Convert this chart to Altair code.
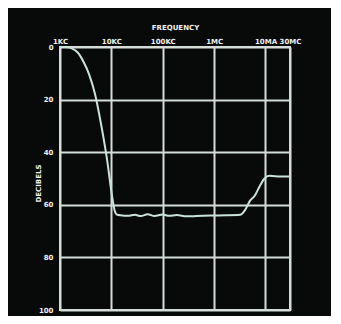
import altair as alt
import pandas as pd

# Frequency response (attenuation in dB vs frequency in Hz)
freq = [1000, 1300, 1690, 2195, 2850, 3700, 4815, 6250, 8120, 10560, 11500, 12560, 14950,
        21200, 28800, 37400, 50800, 69000, 100000, 133000, 188000, 291000, 451000,
        867000, 1670000, 3210000, 4000000, 4970000, 6190000, 7690000, 9570000,
        11900000, 20000000, 30000000]
db = [0, 0, 0.5, 2, 5.5, 10.5, 18, 29, 42, 58, 62, 63.6, 64,
      64.2, 63.8, 64.3, 63.6, 64.3, 63.7, 64.2, 63.9, 64.4, 64.3,
      64.1, 64.0, 63.8, 62.0, 58.5, 56.5, 53, 50,
      49, 49.2, 49.2]

x_ticks = [1000, 10000, 100000, 1000000, 10000000, 30000000]
x_labels = ["1KC", "10KC", "100KC", "1MC", "10MA", "30MC"]
y_ticks = [0, 20, 40, 60, 80, 100]

df = pd.DataFrame({"freq": freq, "db": db})

label_expr = " : ".join(
    f"datum.value == {v} ? '{l}'" for v, l in zip(x_ticks, x_labels)
) + " : ''"

FG = "#d4ddd8"
LINE = "#c9e3d9"
BG = "#080a0a"
FONT = "DejaVu Sans"

chart = alt.Chart(df).mark_line(
    color=LINE, strokeWidth=2, interpolate="monotone"
).encode(
    x=alt.X("freq:Q",
            scale=alt.Scale(type="log", domain=[1000, 30000000], nice=False),
            axis=alt.Axis(orient="top", values=x_ticks, labelExpr=label_expr,
                          title="FREQUENCY", titlePadding=7, labelPadding=3,
                          tickSize=0, domain=False, grid=True, labelOverlap=False,
                          labelFlush=False)),
    y=alt.Y("db:Q",
            scale=alt.Scale(domain=[0, 100], reverse=True, nice=False),
            axis=alt.Axis(values=y_ticks, title="DECIBELS", tickSize=0,
                          labelPadding=7, domain=False, grid=True,
                          titleX=-19, titleY=136)),
).properties(
    width=230, height=263,
    background=BG,
    autosize=alt.AutoSizeParams(type="none"),
    padding={"left": 52, "top": 39, "right": 41, "bottom": 6},
).configure_view(
    stroke=FG, strokeWidth=2
).configure_axis(
    gridColor=FG, gridWidth=2, gridOpacity=1,
    labelColor="#eef2ef", titleColor="#eef2ef",
    labelFont=FONT, titleFont=FONT,
    labelFontSize=7, titleFontSize=7,
    labelFontWeight="bold", titleFontWeight="bold",
)

chart.save("out.html", embed_options={"renderer": "svg", "actions": False})
